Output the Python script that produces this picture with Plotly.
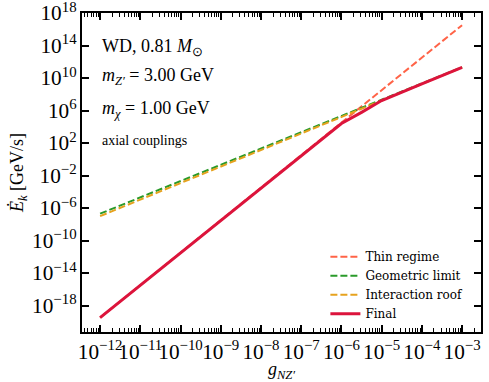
import plotly.graph_objects as go

# coupling grid g_NZ'
g_vals = [1e-12, 1e-11, 1e-10, 1e-9, 1e-8, 1e-7, 1e-6, 3.16e-6, 1e-5, 1e-4, 1e-3]

# energy deposition rates [GeV/s]
thin_regime = [3.2e-20, 3.2e-16, 3.2e-12, 3.2e-8, 3.2e-4, 3.2, 3.2e4, 3.2e6, 3.2e8, 3.2e12, 3.2e16]
geometric_limit = [2e-7, 2e-5, 2e-3, 0.2, 20, 2e3, 2e5, 2e6, 2e7, 2e9, 2.2e11]
interaction_roof = [1e-7, 1.1e-5, 1.2e-3, 0.13, 13, 1.5e3, 1.6e5, 1.6e6, 1.7e7, 1.9e9, 2e11]
final_rate = [3.2e-20, 3.2e-16, 3.2e-12, 3.2e-8, 3.2e-4, 3.2, 2.5e4, 6e5, 1.7e7, 1.9e9, 2e11]

labels = ["WD, 0.81 <i>M</i><sub>⊙</sub>",
          "<i>m</i><sub><i>Z′</i></sub> = 3.00 GeV",
          "<i>m</i><sub><i>χ</i></sub> = 1.00 GeV",
          "axial couplings"]

FONT = "Liberation Serif, Times New Roman, serif"

fig = go.Figure()
fig.add_trace(go.Scatter(x=g_vals, y=thin_regime, name="Thin regime", mode="lines",
                         line=dict(color="#ff6347", width=2, dash="7px,3px")))
fig.add_trace(go.Scatter(x=g_vals, y=geometric_limit, name="Geometric limit", mode="lines",
                         line=dict(color="#2a9a2a", width=2, dash="7px,3px")))
fig.add_trace(go.Scatter(x=g_vals, y=interaction_roof, name="Interaction roof", mode="lines",
                         line=dict(color="#e6a21e", width=2, dash="7px,3px")))
fig.add_trace(go.Scatter(x=g_vals, y=final_rate, name="Final", mode="lines",
                         line=dict(color="#dc143c", width=3)))

ys = [0.893, 0.80, 0.698, 0.599]
sizes = [18, 18, 18, 14]
for txt, yy, sz in zip(labels, ys, sizes):
    fig.add_annotation(text=txt, x=0.045, y=yy, xref="paper", yref="paper",
                       xanchor="left", yanchor="middle", showarrow=False,
                       font=dict(family=FONT, size=sz, color="black"))

axis_common = dict(type="log", showline=True, linewidth=2, linecolor="black",
                   mirror="allticks", ticks="inside", tickwidth=1.5, tickcolor="black",
                   showgrid=False, zeroline=False, exponentformat="power", automargin=False,
                   ticklabeloverflow="allow",
                   tickfont=dict(family=FONT, size=17, color="black"))

fig.update_xaxes(range=[-12.45, -2.53], dtick=1, ticklen=7, tickangle=0,
                 minor=dict(ticks="inside", ticklen=4, tickwidth=1, dtick="D1", tickcolor="black"),
                 title=dict(text="<i>g</i><sub><i>NZ′</i></sub>", font=dict(family=FONT, size=18), standoff=0),
                 **axis_common)
fig.update_yaxes(range=[-21.26, 18.002], dtick=4, tick0=2, ticklen=7,
                 title=dict(text="<i>Ė</i><sub><i>k</i></sub> [GeV/s]", font=dict(family=FONT, size=18), standoff=4),
                 **axis_common)

fig.update_layout(width=489, height=382, margin=dict(l=82, r=8, t=13, b=50),
                  plot_bgcolor="white", paper_bgcolor="white",
                  font=dict(family=FONT, color="black"),
                  legend=dict(x=0.61, y=0.012, xanchor="left", yanchor="bottom",
                              bgcolor="rgba(0,0,0,0)", font=dict(family="DejaVu Serif", size=12),
                              tracegroupgap=0, itemwidth=30))

fig.write_html("out.html", config={"displayModeBar": False},
               post_script="document.body.style.margin='0';")
